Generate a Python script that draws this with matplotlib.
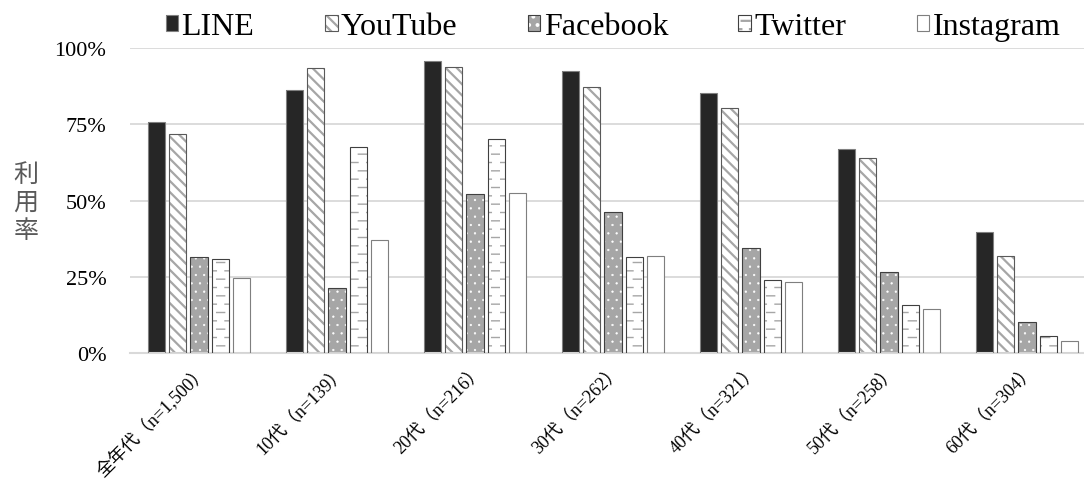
import warnings
import matplotlib.pyplot as plt
import numpy as np
import matplotlib as mpl
from matplotlib import hatch as mhatch
from matplotlib.path import Path

warnings.filterwarnings('ignore')
plt.rcParams['font.family'] = ['Liberation Serif', 'Noto Sans CJK JP']
plt.rcParams['hatch.linewidth'] = 1.6


# staggered short dashes (Excel "dashed horizontal" fill), used with hatch 'd'
class DashBricks(mhatch.HatchPatternBase):
    def __init__(self, hatch, density):
        self.num_rows = hatch.count('d') * density
        self.num_cols = self.num_rows // 2
        self.num_vertices = self.num_rows * self.num_cols * 2

    def set_vertices_and_codes(self, vertices, codes):
        n = 0
        step = 1.0 / self.num_cols
        for i in range(self.num_rows):
            y = (i + 0.5) / self.num_rows
            off = (i % 2) * step / 2
            for k in range(self.num_cols):
                x0 = k * step + off
                vertices[n] = (x0, y)
                vertices[n + 1] = (x0 + step * 0.48, y)
                codes[n] = Path.MOVETO
                codes[n + 1] = Path.LINETO
                n += 2


mhatch._hatch_types.append(DashBricks)

# data (percent)
categories = ['全年代（n=1,500）', '10代（n=139）', '20代（n=216）', '30代（n=262）',
              '40代（n=321）', '50代（n=258）', '60代（n=304）']
services = ['LINE', 'YouTube', 'Facebook', 'Twitter', 'Instagram']
line = [75.6, 86.1, 95.6, 92.3, 85.4, 66.9, 39.6]
youtube = [71.9, 93.3, 93.9, 87.2, 80.2, 63.8, 31.7]
facebook = [31.6, 21.3, 52.0, 46.3, 34.5, 26.4, 10.2]
twitter = [30.8, 67.4, 70.3, 31.4, 24.0, 15.8, 5.7]
instagram = [24.7, 37.2, 52.6, 31.8, 23.4, 14.3, 4.0]
yticks = [0, 25, 50, 75, 100]
ytick_labels = ['0%', '25%', '50%', '75%', '100%']

series = [line, youtube, facebook, twitter, instagram]
# (face, hatch, hatch color, outline color, hatch lw)
styles = [
    ('#262626', '', '#262626', '#808080', 1.6),
    ('white', '\\\\\\', '#a6a6a6', '#595959', 1.6),
    ('#a6a6a6', '..', 'white', '#404040', 0.4),
    ('white', 'dd', '#a6a6a6', '#404040', 1.0),
    ('white', '', 'white', '#7f7f7f', 1.6),
]


def set_hlw(p, lw):
    # per-patch hatch width where matplotlib supports it
    if hasattr(p, 'set_hatch_linewidth'):
        p.set_hatch_linewidth(lw)


fig = plt.figure(figsize=(10.84, 4.85), dpi=100)
ax = fig.add_axes([130 / 1084, 131 / 485, 966 / 1084, 305 / 485])

x = np.arange(len(categories))
pitch = 0.1536
width = 0.125
handles = []
for j, (vals, (fc, hatch, hc, ec, hlw)) in enumerate(zip(series, styles)):
    pos = x + (j - 2) * pitch
    bars = ax.bar(pos, vals, width, color=fc, hatch=hatch, edgecolor=hc, linewidth=0, zorder=2)
    for b in bars:
        set_hlw(b, hlw)
    ax.bar(pos, vals, width, facecolor='none', edgecolor=ec, linewidth=0.8, zorder=3)
    h1 = mpl.patches.Patch(facecolor=fc, hatch=hatch, edgecolor=hc, linewidth=0)
    set_hlw(h1, hlw)
    h2 = mpl.patches.Patch(facecolor='none', edgecolor=ec, linewidth=0.8)
    handles.append((h1, h2))

ax.set_xlim(-0.5, 6.5)
ax.set_ylim(0, 100)
ax.set_yticks(yticks)
ax.set_yticklabels(ytick_labels, fontsize=16)
ax.set_xticks(x)
ax.set_xticklabels(categories, rotation=45, ha='right', rotation_mode='anchor', fontsize=13)
ax.tick_params(axis='both', length=0)
ax.tick_params(axis='y', pad=17)
ax.tick_params(axis='x', pad=6)

ax.yaxis.grid(True, color='#d9d9d9', linewidth=1.3)
ax.set_axisbelow(True)
for s in ['top', 'right', 'left']:
    ax.spines[s].set_visible(False)
ax.spines['bottom'].set_color('#d9d9d9')
ax.spines['bottom'].set_linewidth(1.5)

fig.text(26 / 1084, 1 - 203 / 485, '利\n用\n率', ha='center', va='center',
         fontsize=18, color='#595959', family='Noto Sans CJK JP', linespacing=1.08)

ax.legend(handles, services, loc='lower center', bbox_to_anchor=(0.5, 0.964),
          ncol=5, frameon=False, fontsize=23, handlelength=0.4, handleheight=0.4,
          handletextpad=0.1, columnspacing=2.2, borderaxespad=0.15)

fig.savefig('out.png', dpi=100)
